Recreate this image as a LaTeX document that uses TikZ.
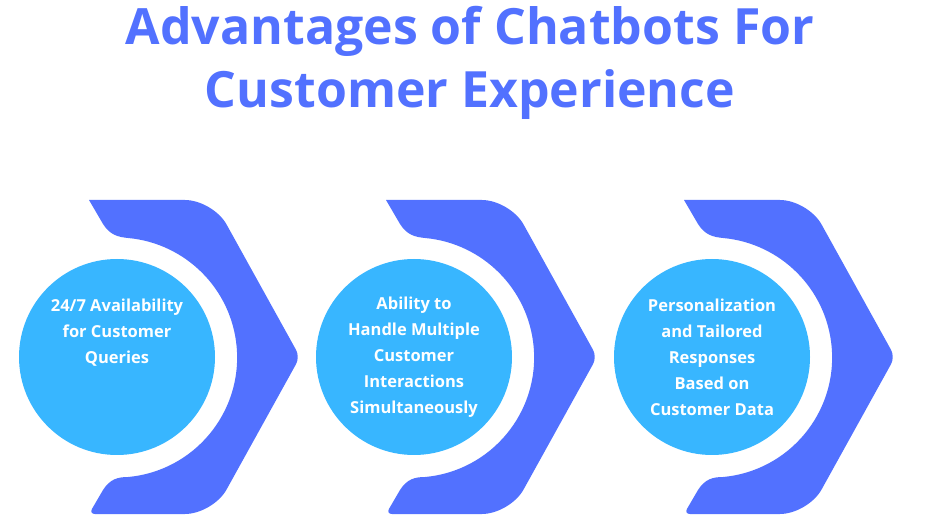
\documentclass[tikz,border=0pt]{standalone}
\usepackage{fontspec}
\setmainfont{Open Sans}
\definecolor{chev}{HTML}{5271FF}
\definecolor{circ}{HTML}{38B6FF}
\begin{document}
\begin{tikzpicture}[x=1pt,y=-1pt,
  chevron/.style={fill=chev},
  bubble/.style={circle,fill=circ,minimum size=196pt,inner sep=0pt,text=white,font=\bfseries\fontsize{16.5}{26}\selectfont,align=center},
  title/.style={text=chev,font=\bfseries\fontsize{50}{63}\selectfont,align=center}]
\useasboundingbox (0,0) rectangle (940,526);
\node[title] (t) at (470,63) {Advantages of Chatbots For\\Customer Experience};
\foreach \dx/\n in {0/a,297/b,595/c}{
  \begin{scope}[xshift=\dx]
  \fill[chevron,rounded corners=6pt] (89,200) -- (160,200) [rounded corners=28pt] -- (213,200) [rounded corners=8pt] -- (300,357) [rounded corners=28pt] -- (213,514) [rounded corners=6pt] -- (160,514) -- (89,514) [sharp corners] -- (103,490) .. controls (110,479) and (118,477) .. (128,477) arc[start angle=84.8,end angle=-84.8,radius=120] .. controls (118,237) and (110,235) .. (103,224) -- cycle;
  \end{scope}}
\node[bubble] (a) at (117,357) {24/7 Availability\\for Customer\\Queries\\[26pt]\mbox{}};
\node[bubble] (b) at (414,357) {Ability to\\Handle Multiple\\Customer\\Interactions\\Simultaneously};
\node[bubble] (c) at (712,357) {Personalization\\and Tailored\\Responses\\Based on\\Customer Data};
\end{tikzpicture}
\end{document}
